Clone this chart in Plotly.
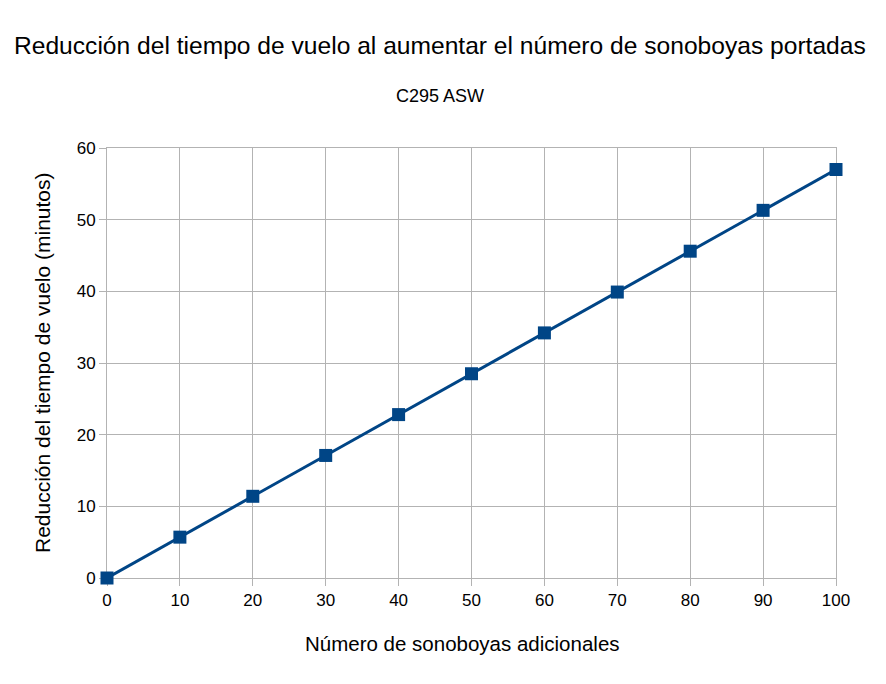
import plotly.graph_objects as go

sonoboyas = [0, 10, 20, 30, 40, 50, 60, 70, 80, 90, 100]
reduccion_min = [0, 5.7, 11.4, 17.1, 22.8, 28.5, 34.2, 39.9, 45.6, 51.3, 57.0]

x_ticks = list(range(0, 101, 10))
y_ticks = list(range(0, 61, 10))

LINE = "#004586"
GRID = "#b3b3b3"
FONT = "Liberation Sans, Arial, sans-serif"

fig = go.Figure(
    go.Scatter(
        x=sonoboyas, y=reduccion_min, mode="lines+markers",
        line=dict(color=LINE, width=3),
        marker=dict(symbol="square", size=13, color=LINE),
        cliponaxis=False,
        showlegend=False,
    )
)

axis_common = dict(
    showgrid=True, gridcolor=GRID, gridwidth=1,
    showline=True, linecolor=GRID, linewidth=1,
    ticks="outside", ticklen=7, tickcolor=GRID,
    zeroline=False, mirror=True, layer="below traces",
    tickfont=dict(size=17, color="black", family=FONT),
)

# page body has an 8px margin, so the figure sits 8px right/down
fig.update_layout(
    width=886, height=684,
    paper_bgcolor="white", plot_bgcolor="white",
    margin=dict(l=99, r=58, t=140, b=114),
    font=dict(family=FONT, color="black"),
    xaxis=dict(range=[0, 100], tickvals=x_ticks, **axis_common),
    yaxis=dict(range=[0, 60], tickvals=y_ticks, **axis_common),
    annotations=[
        dict(text="Reducción del tiempo de vuelo al aumentar el número de sonoboyas portadas",
             xref="paper", yref="paper", x=0.4568, xanchor="center",
             y=1, yshift=103, yanchor="middle", showarrow=False,
             font=dict(size=24.6)),
        dict(text="C295 ASW",
             xref="paper", yref="paper", x=0.4568, xanchor="center",
             y=1, yshift=52, yanchor="middle", showarrow=False,
             font=dict(size=18)),
        dict(text="Número de sonoboyas adicionales",
             xref="paper", yref="paper", x=0.487, xanchor="center",
             y=0, yshift=-65, yanchor="middle", showarrow=False,
             font=dict(size=20.5)),
        dict(text="Reducción del tiempo de vuelo (minutos)",
             xref="paper", yref="paper", x=0, xshift=-65, xanchor="center",
             y=0.5, yanchor="middle", textangle=-90, showarrow=False,
             font=dict(size=21)),
    ],
)

fig.write_html("out.html")
